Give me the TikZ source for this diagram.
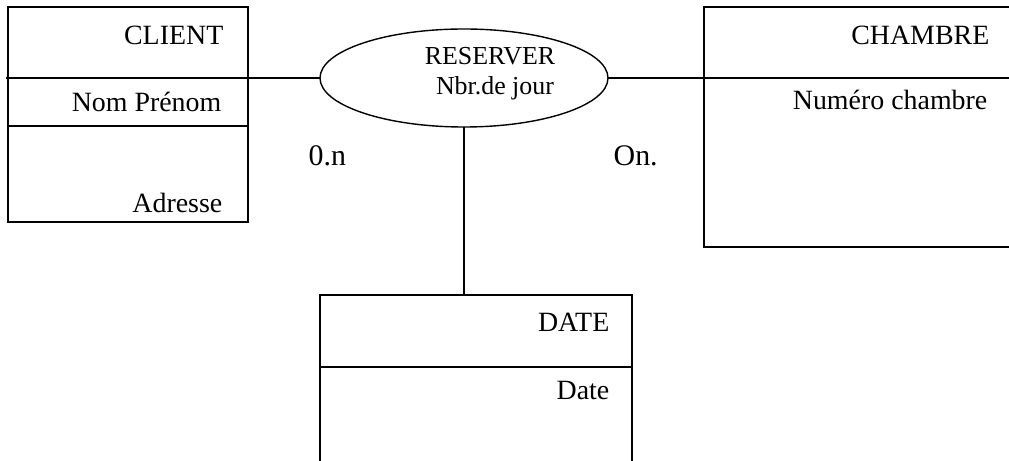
\documentclass[tikz,border=0pt]{standalone}
\usepackage{fontspec}
\setmainfont{Liberation Serif}
\usetikzlibrary{shapes.geometric}
\begin{document}
\begin{tikzpicture}[x=1bp,y=-1bp, line width=1.4bp,
  entbox/.style={draw, rectangle, inner sep=0pt, outer sep=0pt, anchor=north west},
  lbl/.style={anchor=base east, inner sep=0pt, font=\fontsize{28}{34}\selectfont},
  rlbl/.style={anchor=base, inner sep=0pt, font=\fontsize{26}{31}\selectfont},
  card/.style={anchor=base west, inner sep=0pt, font=\fontsize{30}{36}\selectfont}]
\useasboundingbox (0,0) rectangle (1009,461);
\clip (0,0) rectangle (1009,461);
% entities
\node[entbox, minimum width=240bp, minimum height=215bp] (client) at (8,7) {};
\node[entbox, minimum width=311bp, minimum height=240bp] (chambre) at (704,7) {};
\node[entbox, minimum width=312bp, minimum height=175bp] (date) at (320,295) {};
% relation
\node[draw, ellipse, inner sep=0pt, outer sep=0pt, minimum width=288bp, minimum height=98bp] (rel) at (464,78) {};
% compartment lines
\draw (client.north west) ++(0,119) -- ++(240,0);
\draw (date.north west) ++(0,72) -- ++(312,0);
% connectors
\coordinate (lend) at (6,78);
\coordinate (rend) at (1009,78);
\draw (lend) -- (rel.west);
\draw (rel.east) -- (rend);
\draw (rel.south) -- (date.north -| rel.south);
% labels
\node[lbl] (lc) at (224,45) {CLIENT};
\node[lbl] (lnp) at (222,112) {Nom Prénom};
\node[lbl] (lad) at (223,213) {Adresse};
\node[lbl] (lch) at (990,45) {CHAMBRE};
\node[lbl] (lnc) at (988,110) {Numéro chambre};
\node[lbl] (ldt) at (610,332) {DATE};
\node[lbl] (ld) at (610,400) {Date};
\node[rlbl] (lr) at (490,65) {RESERVER};
\node[rlbl] (lj) at (495,95) {Nbr.de jour};
\node[card] (c1) at (308,166) {0.n};
\node[card] (c2) at (613,166) {On.};
\end{tikzpicture}
\end{document}
